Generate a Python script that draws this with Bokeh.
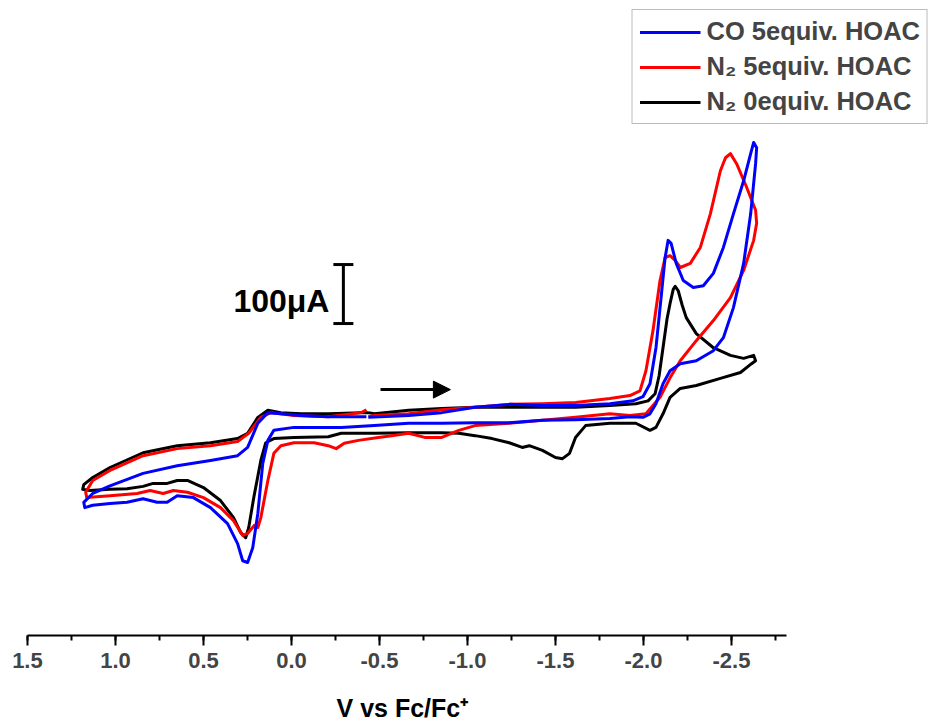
from bokeh.plotting import figure
from bokeh.models import (Range1d, SingleIntervalTicker, NumeralTickFormatter, Legend, LegendItem,
                          Arrow, NormalHead, Whisker, TeeHead, ColumnDataSource, Label)
from bokeh.embed import file_html
from bokeh.resources import INLINE

# ---------------- data (potential in V vs Fc/Fc+, current in microampere) ----------------
co5_v = [-0.437, -0.666, -0.854, -1.043, -1.237, -1.426, -1.614, -1.809, -1.940, -1.997,
         -2.037, -2.071, -2.100, -2.123, -2.140, -2.157, -2.186, -2.226, -2.283, -2.340,
         -2.397, -2.454, -2.511, -2.569, -2.609, -2.626, -2.643,
         -2.637, -2.609, -2.569, -2.511, -2.454, -2.397, -2.300, -2.209, -2.151, -2.111,
         -2.071, -2.037, -1.997, -1.923, -1.809, -1.614, -1.426, -1.237, -1.043, -0.854,
         -0.666, -0.471, -0.283, -0.209, -0.014, 0.100, 0.134, 0.163, 0.191, 0.220,
         0.249, 0.277, 0.306, 0.363, 0.460, 0.557, 0.649, 0.706, 0.763, 0.843,
         0.934, 1.031, 1.129, 1.174,
         1.180, 1.129, 1.031, 0.843, 0.649, 0.460, 0.306, 0.249, 0.191, 0.134,
         0.060, -0.054, -0.209, -0.397, -0.426]
co5_i = [41, 44, 49, 58, 63, 61, 61, 64, 69, 76,
         98, 159, 244, 312, 341, 336, 302, 273, 261, 264,
         285, 329, 386, 442, 488, 507, 498,
         471, 386, 302, 227, 176, 154, 137, 132, 120, 98,
         64, 47, 41, 42, 39, 37, 36, 32, 32, 31,
         31, 27, 24, 24, 24, 19, 2, -37, -122, -180,
         -205, -202, -173, -139, -112, -95, -92, -103, -103, -97,
         -103, -105, -108, -112,
         -103, -88, -75, -54, -41, -32, -24, -10, 31, 49,
         47, 44, 42, 42, 42]

n2_5_v = [-0.437, -0.471, -0.666, -0.854, -1.043, -1.237, -1.426, -1.614, -1.809, -1.923,
          -1.980, -2.014, -2.054, -2.094, -2.123, -2.151, -2.180, -2.209, -2.266, -2.323,
          -2.380, -2.437, -2.466, -2.494, -2.529, -2.586, -2.637, -2.643,
          -2.626, -2.569, -2.494, -2.397, -2.300, -2.209, -2.151, -2.094, -2.014, -1.923,
          -1.809, -1.614, -1.426, -1.237, -1.043, -0.951, -0.854, -0.757, -0.666, -0.569,
          -0.494, -0.380, -0.300, -0.254, -0.209, -0.129, -0.014, 0.060, 0.100, 0.134,
          0.174, 0.191, 0.210, 0.249, 0.277, 0.329, 0.403, 0.500, 0.591, 0.671,
          0.729, 0.803, 0.877, 1.031, 1.163,
          1.169, 1.129, 1.031, 0.843, 0.649, 0.460, 0.306, 0.243, 0.174, 0.117,
          -0.014, -0.209, -0.397, -0.426]
n2_5_i = [42, 44, 47, 54, 58, 63, 64, 66, 73, 78,
          86, 120, 188, 273, 312, 315, 307, 295, 302, 329,
          386, 459, 481, 488, 471, 431, 392, 370,
          341, 290, 244, 205, 171, 137, 108, 75, 47, 44,
          47, 41, 36, 31, 27, 19, 7, 7, 14, 10,
          7, 2, -3, -12, -7, -2, -2, -7, -20, -66,
          -129, -146, -142, -156, -159, -134, -112, -95, -86, -83,
          -88, -83, -88, -92, -95,
          -86, -66, -49, -24, -12, -7, 0, 14, 41, 49,
          44, 42, 49, 54]

n2_0_v = [-0.437, -0.471, -0.666, -0.854, -1.043, -1.237, -1.426, -1.614, -1.809, -1.957,
          -2.026, -2.066, -2.089, -2.111, -2.134, -2.151, -2.169, -2.180, -2.197, -2.220,
          -2.243, -2.300, -2.397, -2.494, -2.569, -2.626, -2.637,
          -2.614, -2.551, -2.437, -2.300, -2.209, -2.151, -2.111, -2.071, -2.037, -1.957,
          -1.809, -1.671, -1.614, -1.580, -1.540, -1.500, -1.426, -1.351, -1.311, -1.237,
          -1.140, -1.043, -0.951, -0.854, -0.666, -0.471, -0.283, -0.209, -0.014, 0.100,
          0.146, 0.174, 0.214, 0.243, 0.260, 0.289, 0.329, 0.403, 0.500, 0.591,
          0.649, 0.706, 0.786, 0.843, 0.934, 1.031, 1.146, 1.186,
          1.180, 1.129, 1.031, 0.843, 0.649, 0.460, 0.306, 0.249, 0.191, 0.134,
          0.060, -0.054, -0.209, -0.397, -0.437]
n2_0_i = [49, 47, 53, 56, 58, 58, 58, 58, 61, 64,
          69, 81, 112, 159, 208, 234, 258, 263, 256, 231,
          210, 183, 159, 146, 141, 146, 137,
          132, 117, 107, 95, 90, 75, 47, 24, 19, 31,
          31, 27, 7, -20, -29, -27, -15, -7, -10, -2,
          5, 10, 14, 15, 15, 14, 14, 8, 7, 5,
          -2, -32, -95, -146, -163, -154, -129, -100, -78, -66,
          -66, -71, -71, -76, -80, -81, -83, -81,
          -73, -61, -44, -19, -7, -2, 5, 14, 41, 53,
          49, 47, 47, 49, 49]

series_labels = ["CO 5equiv. HOAC", "N\u2082 5equiv. HOAC", "N\u2082 0equiv. HOAC"]
series_colors = ["#0000FF", "#FF0000", "#000000"]

x_ticks_interval = 0.5
x_axis_bounds = (-2.81, 1.5)
x_axis_at_current = -329          # uA level where the potential axis is drawn
x_title = "V vs Fc/Fc\u207a"
x_title_x = -0.63
x_title_y = -451

scale_bar_x = -0.295          # V
scale_bar_lower = 200         # uA
scale_bar_upper = 300         # uA  (100 uA bar)
scale_label = "100\u03bcA"
scale_label_x = -0.216
scale_label_y = 239

arrow_y = 88
arrow_x_start = -0.506
arrow_x_end = -0.903

FONT = "Liberation Sans"

# ---------------- figure ----------------
p = figure(width=929, height=726, output_backend="svg", toolbar_location=None,
           x_range=Range1d(1.653, -3.625), y_range=Range1d(-483, 734),
           y_axis_location=None,
           min_border_left=0, min_border_right=0, min_border_top=8, min_border_bottom=0)
p.grid.visible = False
p.outline_line_color = None
p.background_fill_color = "white"
p.border_fill_color = "white"

r_n2_0 = p.line(n2_0_v, n2_0_i, line_color=series_colors[2], line_width=3, line_join="round")
r_n2_5 = p.line(n2_5_v, n2_5_i, line_color=series_colors[1], line_width=3, line_join="round")
r_co5 = p.line(co5_v, co5_i, line_color=series_colors[0], line_width=3, line_join="round")

ax = p.xaxis[0]
ax.fixed_location = x_axis_at_current
ax.ticker = SingleIntervalTicker(interval=x_ticks_interval, num_minor_ticks=2)
ax.formatter = NumeralTickFormatter(format="0.0")
ax.bounds = x_axis_bounds
ax.axis_line_width = 2
ax.major_tick_line_width = 2
ax.minor_tick_line_width = 2
ax.major_tick_in = 0
ax.major_tick_out = 10
ax.minor_tick_in = 0
ax.minor_tick_out = 5
ax.major_label_text_font = FONT
ax.major_label_text_font_style = "bold"
ax.major_label_text_font_size = "22px"
ax.major_label_standoff = 7

# axis title, centred under the drawn (bounded) part of the axis
p.add_layout(Label(x=x_title_x, y=x_title_y, text=x_title, text_align="center",
                   text_baseline="alphabetic", text_font=FONT, text_font_style="bold",
                   text_font_size="25px", text_color="black"))

# scale bar
sb_src = ColumnDataSource(dict(base=[scale_bar_x], lower=[scale_bar_lower], upper=[scale_bar_upper]))
whisk = Whisker(source=sb_src, base="base", lower="lower", upper="upper", dimension="height",
                line_width=3, line_color="black",
                upper_head=TeeHead(size=20, line_width=3, line_color="black"),
                lower_head=TeeHead(size=20, line_width=3, line_color="black"))
p.add_layout(whisk)
p.add_layout(Label(x=scale_label_x, y=scale_label_y, text=scale_label, text_align="right",
                   text_baseline="alphabetic", text_font=FONT, text_font_style="bold",
                   text_font_size="32px", text_color="black"))

# scan direction arrow
p.add_layout(Arrow(x_start=arrow_x_start, y_start=arrow_y, x_end=arrow_x_end, y_end=arrow_y,
                   line_width=3, line_color="black",
                   end=NormalHead(size=17, fill_color="black", line_color="black")))

legend = Legend(items=[LegendItem(label=series_labels[0], renderers=[r_co5]),
                       LegendItem(label=series_labels[1], renderers=[r_n2_5]),
                       LegendItem(label=series_labels[2], renderers=[r_n2_0])],
                location="top_right", margin=1, padding=7, spacing=6,
                glyph_width=61, glyph_height=26, label_height=26, label_standoff=6,
                label_text_font=FONT, label_text_font_style="bold", label_text_font_size="25.5px",
                border_line_color="#777777", border_line_width=1.5,
                background_fill_color="white", background_fill_alpha=1.0)
p.add_layout(legend)

open("out.html", "w").write(file_html(p, INLINE))
